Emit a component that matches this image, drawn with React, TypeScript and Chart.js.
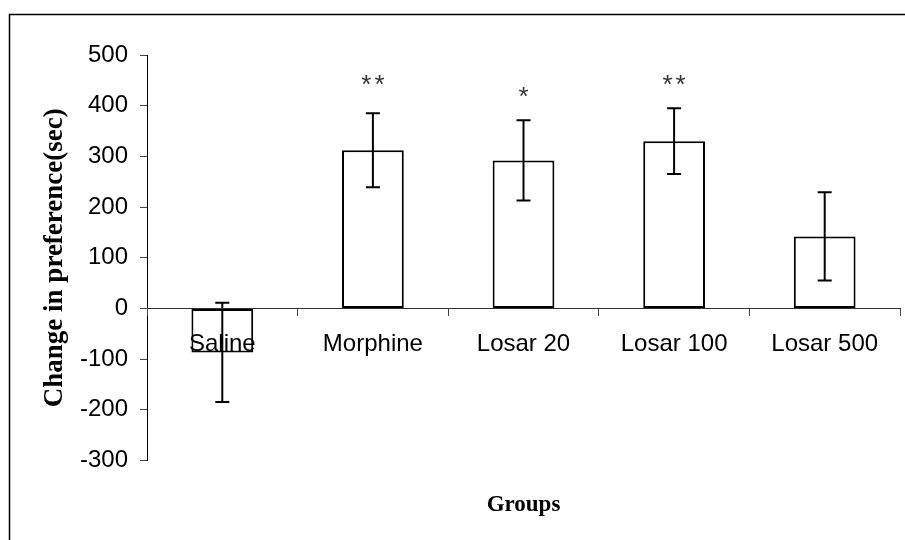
import React, { useEffect, useRef } from "react";
import { Chart, registerables } from "chart.js";

Chart.register(...registerables);

const categories = ["Saline", "Morphine", "Losar 20", "Losar 100", "Losar 500"];
const means = [-87, 312, 292, 330, 142];
const errors = [98, 73, 79, 65, 87];
const stars = ["", "**", "*", "**", ""];
const starLevels: (number | null)[] = [null, 449, 425, 449, null];
const yMin = -300;
const yMax = 500;
const yStep = 100;

const SANS = '"Liberation Sans", Arial, sans-serif';
const SERIF = '"Liberation Serif", "Times New Roman", serif';

const extrasPlugin = {
  id: "extras",
  afterDatasetsDraw(chart: any) {
    const ctx = chart.ctx;
    const xs = chart.scales.x;
    const ys = chart.scales.y;
    ctx.save();
    ctx.strokeStyle = "#000";
    ctx.lineWidth = 2;
    for (let i = 0; i < categories.length; i++) {
      const x = xs.getPixelForValue(i);
      const yt = ys.getPixelForValue(means[i] + errors[i]);
      const yb = ys.getPixelForValue(means[i] - errors[i]);
      ctx.beginPath();
      ctx.moveTo(x, yt);
      ctx.lineTo(x, yb);
      ctx.moveTo(x - 7, yt);
      ctx.lineTo(x + 7, yt);
      ctx.moveTo(x - 7, yb);
      ctx.lineTo(x + 7, yb);
      ctx.stroke();
      const lvl = starLevels[i];
      if (stars[i] && lvl !== null) {
        ctx.fillStyle = "#333";
        ctx.font = "26px " + SANS;
        (ctx as any).letterSpacing = "3px";
        ctx.textAlign = "center";
        ctx.textBaseline = "alphabetic";
        ctx.fillText(stars[i], x + 1.5, ys.getPixelForValue(lvl) + 12);
        (ctx as any).letterSpacing = "0px";
      }
    }
    ctx.restore();
  },
  afterDraw(chart: any) {
    const ctx = chart.ctx;
    ctx.save();
    ctx.strokeStyle = "#000";
    ctx.lineWidth = 1.5;
    ctx.strokeRect(9.5, 14.5, 910, 600);
    ctx.restore();
  },
};

export default function App() {
  const ref = useRef<HTMLCanvasElement | null>(null);
  useEffect(() => {
    if (!ref.current) return;
    const chart = new Chart(ref.current, {
      type: "bar",
      data: {
        labels: categories,
        datasets: [
          {
            data: means,
            backgroundColor: "#ffffff",
            borderColor: "#000000",
            borderWidth: 2,
            borderSkipped: false,
            categoryPercentage: 1,
            barPercentage: 0.41,
          },
        ],
      },
      options: {
        animation: false,
        responsive: false,
        devicePixelRatio: 1,
        layout: { padding: { left: 0, right: 5, top: 55, bottom: 0 } },
        plugins: {
          legend: { display: false },
          tooltip: { enabled: false },
          title: {
            display: true,
            position: "bottom",
            fullSize: false,
            text: "Groups",
            color: "#000",
            font: { family: SERIF, size: 23, weight: "bold", lineHeight: 1.2 },
            padding: { top: 31, bottom: 21 },
          },
        },
        scales: {
          x: {
            type: "category",
            position: { y: 0 } as any,
            offset: true,
            grid: {
              display: true,
              offset: true,
              drawOnChartArea: false,
              drawTicks: true,
              tickLength: 7,
              color: "#444",
              z: 1,
            },
            border: { display: true, color: "#333", width: 1, z: 1 },
            ticks: {
              color: "#000",
              font: { family: SANS, size: 24 },
              padding: 15,
              maxRotation: 0,
              autoSkip: false,
              z: 1,
            },
          },
          y: {
            type: "linear",
            position: "left",
            min: yMin,
            max: yMax,
            afterFit: (scale: any) => {
              scale.width = 147;
            },
            grid: {
              display: true,
              drawOnChartArea: false,
              drawTicks: true,
              tickLength: 7,
              color: "#444",
            },
            border: { display: true, color: "#000", width: 1 },
            ticks: {
              stepSize: yStep,
              color: "#000",
              font: { family: SANS, size: 24 },
              padding: 12,
            },
            title: {
              display: true,
              text: "Change in preference(sec)",
              color: "#000",
              font: { family: SERIF, size: 27, weight: "bold", lineHeight: 1.2 },
              padding: { top: 39, bottom: 0 },
            },
          },
        },
      },
      plugins: [extrasPlugin],
    });
    return () => chart.destroy();
  }, []);
  return (
    <div style={{ position: "fixed", left: 0, top: 0, width: 905, height: 540, background: "#fff" }}>
      <canvas ref={ref} width={905} height={540} />
    </div>
  );
}
